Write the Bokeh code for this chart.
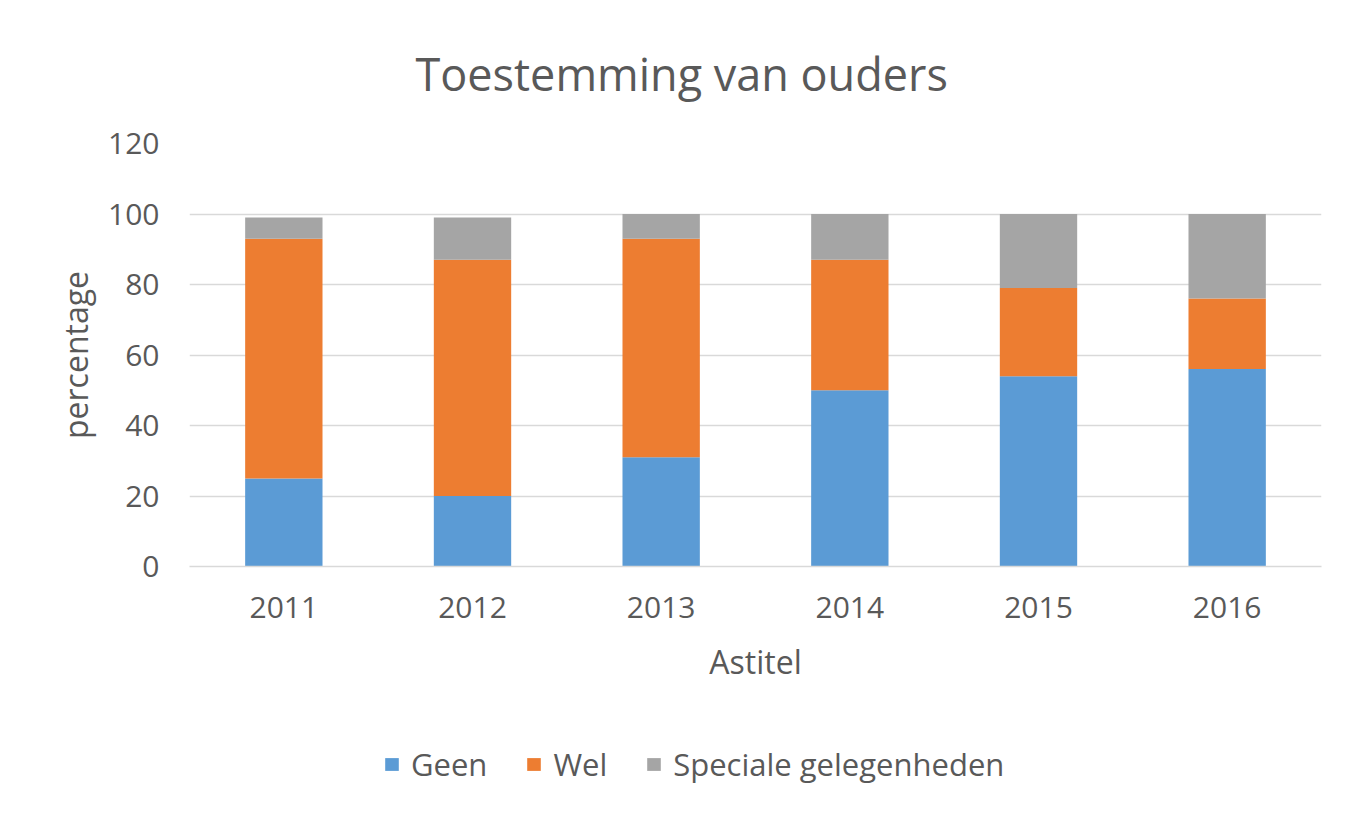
from bokeh.plotting import figure
from bokeh.models import FactorRange, Range1d, Legend, LegendItem, Title
from bokeh.layouts import column
from bokeh.embed import file_html
from bokeh.resources import INLINE

years = ["2011", "2012", "2013", "2014", "2015", "2016"]
geen = [25, 20, 31, 50, 54, 56]
wel = [68, 67, 62, 37, 25, 20]
speciale = [6, 12, 7, 13, 21, 24]
series_names = ["Geen", "Wel", "Speciale gelegenheden"]
y_ticks = [0, 20, 40, 60, 80, 100, 120]

colors = ["#5B9BD5", "#ED7D31", "#A5A5A5"]
FONT = "Open Sans"
TXT = "#595959"

data = {"years": years, "Geen": geen, "Wel": wel, "Speciale gelegenheden": speciale}

p = figure(width=1345, height=700, output_backend="svg", toolbar_location=None,
           x_range=FactorRange(*years, range_padding=0), y_range=Range1d(0, 120),
           min_border_left=189, min_border_right=24, min_border_top=143, min_border_bottom=134)
p.outline_line_color = None
p.background_fill_color = "white"
p.border_fill_color = "white"

rs = p.vbar_stack(series_names, x="years", width=0.41, color=colors, line_color=None, source=data)

# axes
p.yaxis.ticker = y_ticks
p.yaxis.axis_line_color = None
p.yaxis.major_tick_line_color = None
p.yaxis.minor_tick_line_color = None
p.yaxis.major_label_standoff = 24
p.yaxis.major_label_text_font = FONT
p.yaxis.major_label_text_font_size = "30px"
p.yaxis.major_label_text_color = TXT
p.yaxis.axis_label = "percentage"
p.yaxis.axis_label_text_font = FONT
p.yaxis.axis_label_text_font_size = "32px"
p.yaxis.axis_label_text_font_style = "normal"
p.yaxis.axis_label_text_color = TXT
p.yaxis.axis_label_standoff = 8

p.xaxis.axis_line_color = "#D9D9D9"
p.xaxis.axis_line_width = 1.5
p.xaxis.major_tick_line_color = None
p.xaxis.minor_tick_line_color = None
p.xaxis.major_label_standoff = 24
p.xaxis.major_label_text_font = FONT
p.xaxis.major_label_text_font_size = "30px"
p.xaxis.major_label_text_color = TXT
p.xaxis.axis_label = "Astitel"
p.xaxis.axis_label_text_font = FONT
p.xaxis.axis_label_text_font_size = "32px"
p.xaxis.axis_label_text_font_style = "normal"
p.xaxis.axis_label_text_color = TXT
p.xaxis.axis_label_standoff = 19

p.xgrid.grid_line_color = None
p.ygrid.grid_line_color = "#D9D9D9"
p.ygrid.grid_line_width = 1.5

# title
title = Title(text="Toestemming van ouders", align="left", offset=226, standoff=80,
              text_font=FONT, text_font_size="45px", text_font_style="normal", text_color=TXT)
p.add_layout(title, "above")

# legend strip (separate figure below the chart)
lf = figure(width=1345, height=106, output_backend="svg", toolbar_location=None,
            x_range=FactorRange(*years), y_range=Range1d(1000, 1001),
            min_border=0, min_border_left=0, min_border_right=0, min_border_top=0, min_border_bottom=0)
lf.axis.visible = False
lf.grid.visible = False
lf.outline_line_color = None
lf.background_fill_color = "white"
lf.border_fill_color = "white"
lrs = lf.vbar_stack(series_names, x="years", width=0.41, color=colors, line_color=None, source=data)

legend = Legend(items=[LegendItem(label=n, renderers=[r]) for n, r in zip(series_names, lrs)],
                orientation="horizontal", location=(194, 21),
                glyph_width=17, glyph_height=16, label_standoff=11, spacing=38, padding=0, margin=0,
                border_line_color=None, background_fill_alpha=0,
                label_text_font=FONT, label_text_font_size="31px", label_text_color=TXT)
lf.add_layout(legend, "center")

layout = column(p, lf, spacing=0)
open("out.html", "w").write(file_html(layout, INLINE))
